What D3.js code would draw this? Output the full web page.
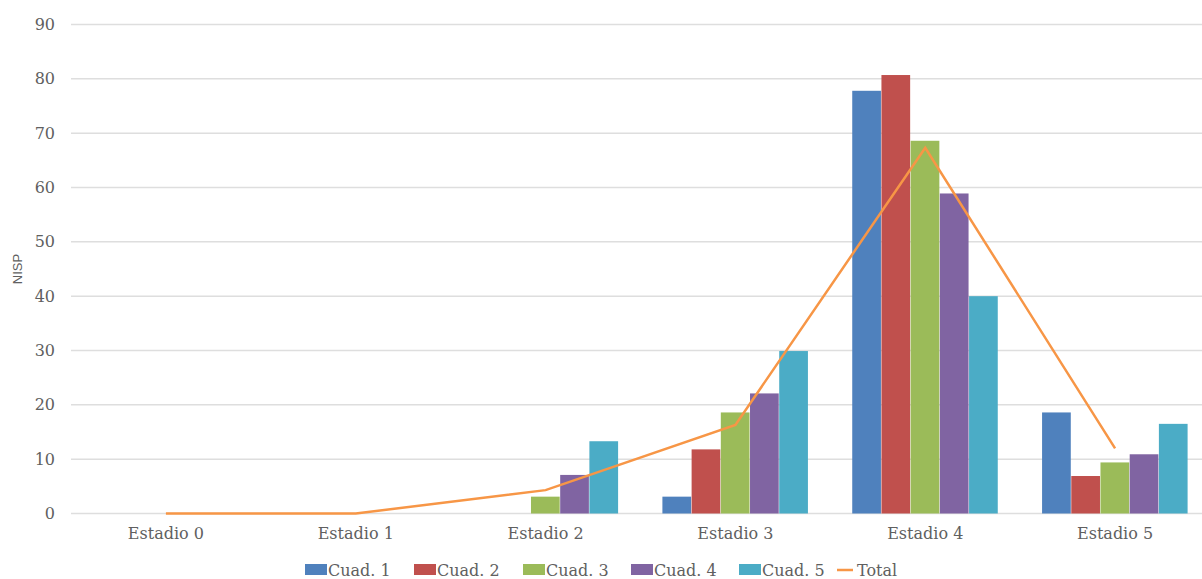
<!DOCTYPE html>
<html>
<head>
<meta charset="utf-8">
<script src="https://cdn.jsdelivr.net/npm/d3@7"></script>
<style>
  body { margin: 0; background: #fff; }
  svg text { font-family: "DejaVu Serif", serif; fill: #606060; }
</style>
</head>
<body>
<div id="chart"></div>
<script>
// Values
const categories = ["Estadio 0", "Estadio 1", "Estadio 2", "Estadio 3", "Estadio 4", "Estadio 5"];
const seriesNames = ["Cuad. 1", "Cuad. 2", "Cuad. 3", "Cuad. 4", "Cuad. 5"];
const cuad1 = [0, 0, 0, 3.1, 77.8, 18.6];
const cuad2 = [0, 0, 0, 11.8, 80.7, 6.9];
const cuad3 = [0, 0, 3.1, 18.6, 68.6, 9.4];
const cuad4 = [0, 0, 7.1, 22.1, 58.9, 10.9];
const cuad5 = [0, 0, 13.3, 29.9, 40.0, 16.5];
const total = [0, 0, 4.3, 16.3, 67.3, 12.0];
const yTicks = [0, 10, 20, 30, 40, 50, 60, 70, 80, 90];

const colors = ["#4F81BD", "#C0504D", "#9BBB59", "#8064A2", "#4BACC6"];
const lineColor = "#F79646";

const totalWidth = 1202, totalHeight = 579;
const margin = { top: 24.5, left: 71, right: -8, bottom: 65.5 };
const w = totalWidth - margin.left - margin.right;
const h = totalHeight - margin.top - margin.bottom;

const svg = d3.select("#chart")
  .append("svg")
  .attr("width", totalWidth)
  .attr("height", totalHeight);

const g = svg.append("g")
  .attr("transform", `translate(${margin.left},${margin.top})`);

const x = d3.scaleBand().domain(categories).range([0, w]);
const y = d3.scaleLinear().domain([0, 90]).range([h, 0]);
const xInner = d3.scaleBand().domain(seriesNames)
  .range([0, x.bandwidth()]).paddingOuter(0.75).paddingInner(0);

// Grid lines
g.selectAll(".grid")
  .data(yTicks)
  .enter()
  .append("line")
  .attr("x1", 0)
  .attr("x2", w)
  .attr("y1", d => y(d))
  .attr("y2", d => y(d))
  .attr("stroke", "#dedede")
  .attr("stroke-width", 1.5);

// Y axis labels
const yAxis = d3.axisLeft(y).tickValues(yTicks).tickSize(0).tickPadding(16);
g.append("g")
  .call(yAxis)
  .call(s => s.select(".domain").remove())
  .selectAll("text")
  .style("font-family", "DejaVu Serif, serif")
  .style("font-size", "16px");

// X axis labels
const xAxis = d3.axisBottom(x).tickSize(0).tickPadding(14);
g.append("g")
  .attr("transform", `translate(0,${h})`)
  .call(xAxis)
  .call(s => s.select(".domain").remove())
  .selectAll("text")
  .style("font-family", "DejaVu Serif, serif")
  .style("font-size", "16px");

// Bars
const seriesData = [cuad1, cuad2, cuad3, cuad4, cuad5];
seriesData.forEach((vals, si) => {
  g.selectAll(".bar" + si)
    .data(vals.map((v, i) => ({ cat: categories[i], v })))
    .enter()
    .filter(d => d.v > 0)
    .append("rect")
    .attr("x", d => x(d.cat) + xInner(seriesNames[si]))
    .attr("y", d => y(d.v))
    .attr("width", xInner.bandwidth() - 0.5)
    .attr("height", d => h - y(d.v))
    .attr("fill", colors[si]);
});

// Total line
const line = d3.line()
  .x((d, i) => x(categories[i]) + x.bandwidth() / 2)
  .y(d => y(d));

g.append("path")
  .attr("fill", "none")
  .attr("stroke", lineColor)
  .attr("stroke-width", 2.5)
  .attr("d", line(total));

// NISP label
svg.append("text")
  .attr("transform", `translate(22,${margin.top + y(45)}) rotate(-90)`)
  .attr("text-anchor", "middle")
  .style("font-family", "Liberation Sans, sans-serif")
  .style("font-size", "13px")
  .text("NISP");

// Legend
const legendX = [305, 414, 523, 631, 739];
const legendY = 570;
const legend = svg.append("g");
seriesNames.forEach((name, i) => {
  legend.append("rect")
    .attr("x", legendX[i])
    .attr("y", legendY - 6)
    .attr("width", 22)
    .attr("height", 11)
    .attr("fill", colors[i]);
  legend.append("text")
    .attr("x", legendX[i] + 23)
    .attr("y", legendY + 6)
    .style("font-size", "16px")
    .text(name);
});
legend.append("line")
  .attr("x1", 837).attr("x2", 853)
  .attr("y1", legendY).attr("y2", legendY)
  .attr("stroke", lineColor).attr("stroke-width", 2.5);
legend.append("text")
  .attr("x", 857)
  .attr("y", legendY + 6)
  .style("font-size", "16px")
  .text("Total");
</script>
</body>
</html>
